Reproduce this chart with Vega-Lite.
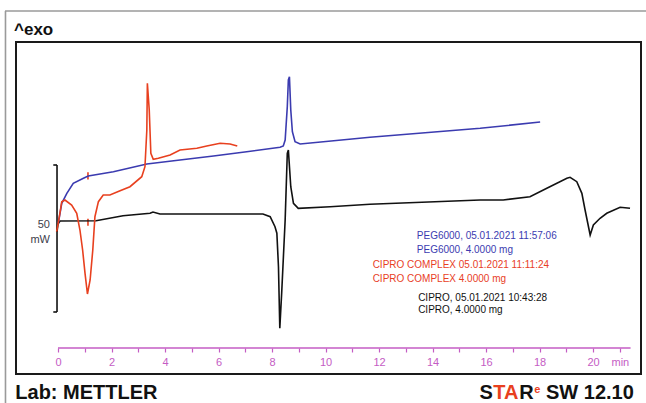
{
  "$schema": "https://vega.github.io/schema/vega-lite/v6.json",
  "width": 625,
  "height": 332,
  "autosize": {"type": "none"},
  "padding": {"left": 16, "top": 42, "right": 5, "bottom": 29},
  "background": "white",
  "config": {"view": {"stroke": "#1a1a1a", "strokeWidth": 2}, "font": "Liberation Sans"},
  "encoding": {
    "x": {"field": "t", "type": "quantitative",
      "scale": {"domain": [-1.57, 21.79], "nice": false, "zero": false},
      "axis": {"orient": "bottom", "offset": -26, "domain": false, "grid": false, "title": null,
        "values": [0,1,2,3,4,5,6,7,8,9,10,11,12,13,14,15,16,17,18,19,20,21],
        "labelExpr": "datum.value == 21 ? 'min' : (datum.value % 2 == 0 ? datum.label : '')",
        "tickColor": "#c45cc4", "tickSize": 4, "tickWidth": 1.2,
        "labelColor": "#c45cc4", "labelFont": "Liberation Sans", "labelFontSize": 11,
        "labelPadding": 4, "labelFlush": false, "labelOverlap": false}},
    "y": {"field": "mw", "type": "quantitative",
      "scale": {"domain": [0, 112.93], "nice": false, "zero": false}, "axis": null}
  },
  "layer": [
    {
      "data": {"values": [
        {"k": "frame", "t": -1.98, "t2": 21.98, "mw": 123.47, "mw2": 123.47},
        {"k": "frame", "t": -1.963, "t2": -1.963, "mw": 123.47, "mw2": -9.86},
        {"k": "scale", "t": -0.037, "t2": -0.037, "mw": 71.09, "mw2": 21.09},
        {"k": "scale", "t": -0.176, "t2": -0.037, "mw": 71.09, "mw2": 71.09},
        {"k": "scale", "t": -0.176, "t2": -0.037, "mw": 21.09, "mw2": 21.09},
        {"k": "axis", "t": 0, "t2": 21.4, "mw": 8.84, "mw2": 8.84},
        {"k": "CIPRO COMPLEX", "t": 1.12, "t2": 1.12, "mw": 66.2, "mw2": 68.6},
        {"k": "CIPRO COMPLEX", "t": 1.12, "t2": 1.12, "mw": 50.4, "mw2": 52.8}
      ]},
      "mark": {"type": "rule", "strokeWidth": 1.6, "clip": false},
      "encoding": {
        "x2": {"field": "t2"},
        "y2": {"field": "mw2"},
        "color": {"field": "k", "type": "nominal", "legend": null,
          "scale": {"domain": ["CIPRO", "CIPRO COMPLEX", "PEG6000", "scale", "axis", "frame"],
                    "range": ["#111111", "#e8401f", "#3b3bb0", "#111111", "#c45cc4", "#9a9a9a"]}}
      }
    },
    {
      "data": {"values": [
        {"k": "CIPRO", "t": -0.037, "mw": 48.30},
        {"k": "CIPRO", "t": 0, "mw": 51.02},
        {"k": "CIPRO", "t": 0.075, "mw": 52.04},
        {"k": "CIPRO", "t": 1.42, "mw": 52.14},
        {"k": "CIPRO", "t": 2.43, "mw": 53.84},
        {"k": "CIPRO", "t": 3.44, "mw": 54.66},
        {"k": "CIPRO", "t": 3.55, "mw": 55.10},
        {"k": "CIPRO", "t": 3.81, "mw": 54.42},
        {"k": "CIPRO", "t": 7.66, "mw": 54.42},
        {"k": "CIPRO", "t": 7.93, "mw": 53.50},
        {"k": "CIPRO", "t": 8.11, "mw": 50.10},
        {"k": "CIPRO", "t": 8.18, "mw": 47.9},
        {"k": "CIPRO", "t": 8.24, "mw": 36.50},
        {"k": "CIPRO", "t": 8.29, "mw": 15.6},
        {"k": "CIPRO", "t": 8.36, "mw": 27.55},
        {"k": "CIPRO", "t": 8.49, "mw": 52.38},
        {"k": "CIPRO", "t": 8.57, "mw": 75.07},
        {"k": "CIPRO", "t": 8.61, "mw": 76.19},
        {"k": "CIPRO", "t": 8.70, "mw": 63.71},
        {"k": "CIPRO", "t": 8.80, "mw": 58.06},
        {"k": "CIPRO", "t": 8.98, "mw": 56.36},
        {"k": "CIPRO", "t": 10.17, "mw": 56.90},
        {"k": "CIPRO", "t": 11.66, "mw": 57.72},
        {"k": "CIPRO", "t": 15.78, "mw": 59.18},
        {"k": "CIPRO", "t": 16.64, "mw": 59.18},
        {"k": "CIPRO", "t": 17.64, "mw": 60.31},
        {"k": "CIPRO", "t": 18.27, "mw": 63.16},
        {"k": "CIPRO", "t": 19.02, "mw": 66.56},
        {"k": "CIPRO", "t": 19.14, "mw": 66.90},
        {"k": "CIPRO", "t": 19.39, "mw": 65.41},
        {"k": "CIPRO", "t": 19.58, "mw": 61.46},
        {"k": "CIPRO", "t": 19.70, "mw": 55.78},
        {"k": "CIPRO", "t": 19.89, "mw": 47.28},
        {"k": "CIPRO", "t": 20.01, "mw": 50.68},
        {"k": "CIPRO", "t": 20.26, "mw": 52.96},
        {"k": "CIPRO", "t": 20.51, "mw": 54.66},
        {"k": "CIPRO", "t": 21.01, "mw": 56.70},
        {"k": "CIPRO", "t": 21.38, "mw": 56.36},
        {"k": "PEG6000", "t": 0.01, "mw": 51.26},
        {"k": "PEG6000", "t": 0.14, "mw": 58.06},
        {"k": "PEG6000", "t": 0.33, "mw": 61.46},
        {"k": "PEG6000", "t": 0.57, "mw": 64.86},
        {"k": "PEG6000", "t": 0.95, "mw": 66.56},
        {"k": "PEG6000", "t": 1.13, "mw": 67.35},
        {"k": "PEG6000", "t": 2.07, "mw": 68.81},
        {"k": "PEG6000", "t": 3.32, "mw": 71.43},
        {"k": "PEG6000", "t": 4.56, "mw": 72.79},
        {"k": "PEG6000", "t": 5.81, "mw": 74.15},
        {"k": "PEG6000", "t": 7.05, "mw": 75.61},
        {"k": "PEG6000", "t": 8.30, "mw": 77.11},
        {"k": "PEG6000", "t": 8.42, "mw": 77.55},
        {"k": "PEG6000", "t": 8.49, "mw": 79.59},
        {"k": "PEG6000", "t": 8.57, "mw": 90.92},
        {"k": "PEG6000", "t": 8.61, "mw": 100.0},
        {"k": "PEG6000", "t": 8.65, "mw": 101.12},
        {"k": "PEG6000", "t": 8.70, "mw": 89.80},
        {"k": "PEG6000", "t": 8.76, "mw": 82.41},
        {"k": "PEG6000", "t": 8.86, "mw": 79.01},
        {"k": "PEG6000", "t": 9.05, "mw": 78.23},
        {"k": "PEG6000", "t": 11.66, "mw": 80.51},
        {"k": "PEG6000", "t": 15.78, "mw": 83.57},
        {"k": "PEG6000", "t": 18.02, "mw": 85.71},
        {"k": "CIPRO COMPLEX", "t": -0.05, "mw": 48.40},
        {"k": "CIPRO COMPLEX", "t": 0.05, "mw": 53.50},
        {"k": "CIPRO COMPLEX", "t": 0.14, "mw": 58.61},
        {"k": "CIPRO COMPLEX", "t": 0.26, "mw": 59.18},
        {"k": "CIPRO COMPLEX", "t": 0.51, "mw": 57.48},
        {"k": "CIPRO COMPLEX", "t": 0.70, "mw": 54.66},
        {"k": "CIPRO COMPLEX", "t": 0.82, "mw": 48.98},
        {"k": "CIPRO COMPLEX", "t": 0.92, "mw": 42.18},
        {"k": "CIPRO COMPLEX", "t": 1.01, "mw": 34.25},
        {"k": "CIPRO COMPLEX", "t": 1.10, "mw": 27.21},
        {"k": "CIPRO COMPLEX", "t": 1.20, "mw": 31.97},
        {"k": "CIPRO COMPLEX", "t": 1.30, "mw": 42.18},
        {"k": "CIPRO COMPLEX", "t": 1.38, "mw": 53.50},
        {"k": "CIPRO COMPLEX", "t": 1.51, "mw": 58.61},
        {"k": "CIPRO COMPLEX", "t": 1.69, "mw": 60.88},
        {"k": "CIPRO COMPLEX", "t": 1.94, "mw": 60.88},
        {"k": "CIPRO COMPLEX", "t": 2.32, "mw": 62.35},
        {"k": "CIPRO COMPLEX", "t": 2.69, "mw": 63.71},
        {"k": "CIPRO COMPLEX", "t": 3.13, "mw": 67.11},
        {"k": "CIPRO COMPLEX", "t": 3.25, "mw": 70.51},
        {"k": "CIPRO COMPLEX", "t": 3.32, "mw": 82.99},
        {"k": "CIPRO COMPLEX", "t": 3.34, "mw": 98.88},
        {"k": "CIPRO COMPLEX", "t": 3.41, "mw": 89.80},
        {"k": "CIPRO COMPLEX", "t": 3.47, "mw": 75.07},
        {"k": "CIPRO COMPLEX", "t": 3.56, "mw": 73.03},
        {"k": "CIPRO COMPLEX", "t": 3.75, "mw": 73.37},
        {"k": "CIPRO COMPLEX", "t": 4.19, "mw": 74.49},
        {"k": "CIPRO COMPLEX", "t": 4.56, "mw": 76.19},
        {"k": "CIPRO COMPLEX", "t": 5.19, "mw": 76.77},
        {"k": "CIPRO COMPLEX", "t": 5.56, "mw": 77.55},
        {"k": "CIPRO COMPLEX", "t": 6.06, "mw": 78.47},
        {"k": "CIPRO COMPLEX", "t": 6.43, "mw": 78.23},
        {"k": "CIPRO COMPLEX", "t": 6.70, "mw": 77.55}
      ]},
      "mark": {"type": "line", "strokeWidth": 1.6, "interpolate": "linear"},
      "encoding": {
        "color": {"field": "k", "type": "nominal", "legend": null}
      }
    },
    {
      "data": {"values": [
        {"k": "PEG6000", "label": "PEG6000, 05.01.2021 11:57:06", "t": 13.41, "mw": 46.94},
        {"k": "PEG6000", "label": "PEG6000, 4.0000 mg", "t": 13.41, "mw": 42.18},
        {"k": "CIPRO COMPLEX", "label": "CIPRO COMPLEX 05.01.2021 11:11:24", "t": 11.76, "mw": 37.07},
        {"k": "CIPRO COMPLEX", "label": "CIPRO COMPLEX 4.0000 mg", "t": 11.76, "mw": 32.21},
        {"k": "CIPRO", "label": "CIPRO, 05.01.2021 10:43:28", "t": 13.46, "mw": 25.95},
        {"k": "CIPRO", "label": "CIPRO, 4.0000 mg", "t": 13.46, "mw": 21.77}
      ]},
      "mark": {"type": "text", "align": "left", "baseline": "middle", "fontSize": 10, "font": "Liberation Sans"},
      "encoding": {
        "text": {"field": "label"},
        "color": {"field": "k", "type": "nominal", "legend": null}
      }
    },
    {
      "data": {"values": [
        {"label": "50", "t": -0.299, "mw": 50.68},
        {"label": "mW", "t": -0.299, "mw": 45.58}
      ]},
      "mark": {"type": "text", "align": "right", "baseline": "middle", "fontSize": 11, "color": "#3d3d4a", "font": "Liberation Sans"},
      "encoding": {"text": {"field": "label"}}
    },
    {
      "data": {"values": [
        {"label": "^exo", "t": -1.645, "mw": 115.3}
      ]},
      "mark": {"type": "text", "align": "left", "baseline": "alphabetic", "fontSize": 17, "fontWeight": "bold", "color": "#111111", "font": "Liberation Sans"},
      "encoding": {"text": {"field": "label"}}
    },
    {
      "data": {"values": [
        {"label": "Lab: METTLER", "t": -1.596, "mw": -8.5},
        {"label": "S", "t": 15.75, "mw": -8.5},
        {"label": "R", "t": 17.24, "mw": -8.5},
        {"label": "SW 12.10", "t": 18.24, "mw": -8.5}
      ]},
      "mark": {"type": "text", "align": "left", "baseline": "alphabetic", "fontSize": 20, "fontWeight": "bold", "color": "#111111", "font": "Liberation Sans"},
      "encoding": {"text": {"field": "label"}}
    },
    {
      "data": {"values": [
        {"label": "TA", "t": 16.27, "mw": -8.5}
      ]},
      "mark": {"type": "text", "align": "left", "baseline": "alphabetic", "fontSize": 20, "fontWeight": "bold", "color": "#e8401f", "font": "Liberation Sans"},
      "encoding": {"text": {"field": "label"}}
    },
    {
      "data": {"values": [
        {"label": "e", "t": 17.8, "mw": -6.46}
      ]},
      "mark": {"type": "text", "align": "left", "baseline": "alphabetic", "fontSize": 11, "fontWeight": "bold", "color": "#e8401f", "font": "Liberation Sans"},
      "encoding": {"text": {"field": "label"}}
    }
  ]
}
